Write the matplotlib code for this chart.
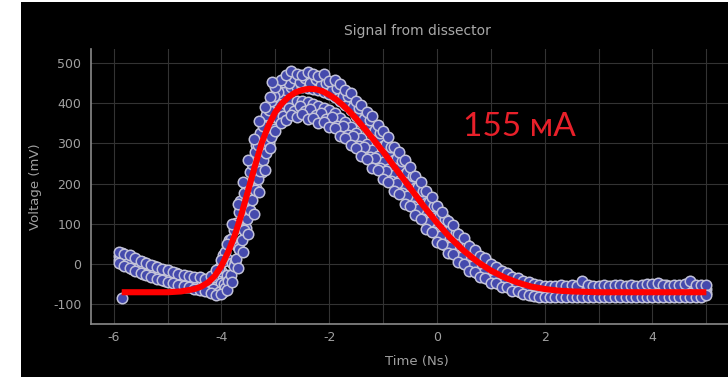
import matplotlib
matplotlib.use('Agg')
import matplotlib.pyplot as plt
from matplotlib.patches import Rectangle
from matplotlib.ticker import MultipleLocator

# sample times (ns)
time_ns = [
    -5.9, -5.8, -5.7, -5.6, -5.5, -5.4, -5.3, -5.2, -5.1, -5.0,
    -4.9, -4.8, -4.7, -4.6, -4.5, -4.4, -4.3, -4.2, -4.1, -4.0,
    -3.9, -3.8, -3.7, -3.6, -3.5, -3.4, -3.3, -3.2, -3.1, -3.0,
    -2.9, -2.8, -2.7, -2.6, -2.5, -2.4, -2.3, -2.2, -2.1, -2.0,
    -1.9, -1.8, -1.7, -1.6, -1.5, -1.4, -1.3, -1.2, -1.1, -1.0,
    -0.9, -0.8, -0.7, -0.6, -0.5, -0.4, -0.3, -0.2, -0.1, 0.0,
    0.1, 0.2, 0.3, 0.4, 0.5, 0.6, 0.7, 0.8, 0.9, 1.0,
    1.1, 1.2, 1.3, 1.4, 1.5, 1.6, 1.7, 1.8, 1.9, 2.0,
    2.1, 2.2, 2.3, 2.4, 2.5, 2.6, 2.7, 2.8, 2.9, 3.0,
    3.1, 3.2, 3.3, 3.4, 3.5, 3.6, 3.7, 3.8, 3.9, 4.0,
    4.1, 4.2, 4.3, 4.4, 4.5, 4.6, 4.7, 4.8, 4.9, 5.0,
]
time_ns_half = [
    -5.85, -5.75, -5.65, -5.55, -5.45, -5.35, -5.25, -5.15, -5.05, -4.95,
    -4.85, -4.75, -4.65, -4.55, -4.45, -4.35, -4.25, -4.15, -4.05, -3.95,
    -3.85, -3.75, -3.65, -3.55, -3.45, -3.35, -3.25, -3.15, -3.05, -2.95,
    -2.85, -2.75, -2.65, -2.55, -2.45, -2.35, -2.25, -2.15, -2.05, -1.95,
    -1.85, -1.75, -1.65, -1.55, -1.45, -1.35, -1.25, -1.15, -1.05, -0.95,
    -0.85, -0.75, -0.65, -0.55, -0.45, -0.35, -0.25, -0.15, -0.05, 0.05,
    0.15, 0.25, 0.35, 0.45, 0.55, 0.65, 0.75, 0.85, 0.95, 1.05,
    1.15, 1.25, 1.35, 1.45, 1.55, 1.65, 1.75, 1.85, 1.95, 2.05,
    2.15, 2.25, 2.35, 2.45, 2.55, 2.65, 2.75, 2.85, 2.95, 3.05,
    3.15, 3.25, 3.35, 3.45, 3.55, 3.65, 3.75, 3.85, 3.95, 4.05,
    4.15, 4.25, 4.35, 4.45, 4.55, 4.65, 4.75, 4.85, 4.95,
]
# extra samples on the steep rising edge
time_ns_rise = [
    -3.975, -3.925, -3.875, -3.825, -3.775, -3.725, -3.675, -3.625, -3.575, -3.525,
    -3.475, -3.425, -3.375, -3.325, -3.275, -3.225, -3.175, -3.125, -3.075, -3.025,
]

# measured voltage (mV), sweeps on the full-step grid
sweep_a = [
    30, 26, 22, 14, 8, 3, -2, -6, -12, -15,
    -20, -24, -26, -30, -32, -33, -36, -30, -15, 10,
    50, 100, 150, 205, 260, 310, 355, 390, 415, 440,
    458, 470, 480, 472, 470, 478, 474, 468, 472, 455,
    458, 448, 432, 425, 405, 395, 378, 368, 345, 332,
    315, 292, 280, 258, 242, 220, 205, 182, 168, 145,
    130, 108, 96, 76, 64, 46, 36, 20, 14, 0,
    -6, -18, -22, -32, -34, -42, -45, -50, -52, -55,
    -54, -55, -53, -54, -52, -54, -42, -53, -55, -54,
    -52, -55, -53, -51, -54, -53, -55, -52, -50, -49,
    -47, -53, -55, -53, -52, -49, -41, -51, -53, -51,
]
sweep_b = [
    21, 16, 11, 4, -2, -7, -12, -16, -21, -25,
    -29, -33, -36, -39, -42, -44, -47, -44, -35, -18,
    12, 52, 97, 147, 198, 248, 297, 338, 373, 403,
    422, 434, 440, 441, 441, 438, 436, 433, 429, 423,
    415, 406, 395, 383, 368, 354, 339, 325, 310, 293,
    275, 258, 242, 225, 207, 190, 171, 153, 135, 117,
    101, 84, 69, 55, 40, 28, 15, 5, -5, -14,
    -22, -29, -36, -42, -47, -53, -57, -60, -63, -64,
    -64, -65, -63, -64, -62, -64, -58, -63, -65, -64,
    -63, -64, -63, -62, -64, -63, -64, -63, -62, -61,
    -60, -63, -64, -63, -63, -61, -58, -62, -63, -61,
]
sweep_c = [
    11, 6, 0, -6, -13, -18, -22, -27, -31, -35,
    -39, -43, -45, -49, -52, -55, -57, -58, -56, -47,
    -27, 3, 43, 88, 137, 187, 238, 287, 332, 367,
    386, 398, 403, 405, 405, 402, 398, 394, 389, 384,
    375, 364, 353, 340, 327, 313, 299, 285, 270, 254,
    237, 222, 206, 190, 173, 157, 140, 123, 106, 88,
    73, 58, 45, 31, 19, 7, -3, -13, -21, -29,
    -36, -42, -48, -53, -59, -63, -67, -70, -72, -73,
    -73, -74, -73, -74, -73, -74, -72, -74, -74, -73,
    -73, -74, -72, -73, -74, -73, -74, -73, -72, -73,
    -72, -73, -74, -73, -72, -73, -72, -73, -74, -71,
]
sweep_d = [
    2, -4, -10, -16, -22, -27, -32, -36, -40, -45,
    -48, -52, -55, -58, -62, -65, -68, -72, -76, -75,
    -65, -45, -10, 30, 75, 125, 180, 235, 290, 330,
    352, 358, 372, 366, 374, 362, 364, 352, 354, 342,
    338, 318, 314, 295, 288, 268, 262, 240, 234, 212,
    204, 182, 174, 150, 144, 122, 112, 88, 80, 56,
    50, 28, 24, 4, 0, -16, -19, -33, -35, -47,
    -48, -57, -58, -66, -68, -75, -76, -80, -81, -82,
    -82, -83, -81, -82, -83, -82, -81, -83, -82, -81,
    -83, -82, -81, -83, -82, -81, -83, -82, -81, -83,
    -82, -81, -83, -82, -81, -83, -82, -81, -82, -78,
]

# sweeps on the half-step grid
sweep_e = [
    28, 15, 16, 1, 5, -8, -4, -18, -15, -26,
    -22, -33, -29, -40, -35, -44, -36, -36, -10, 7,
    59, 92, 157, 196, 260, 297, 351, 374, 414, 427,
    452, 450, 464, 452, 462, 451, 460, 446, 451, 434,
    437, 417, 417, 391, 388, 362, 359, 333, 327, 298,
    291, 264, 257, 228, 220, 192, 183, 155, 145, 119,
    111, 85, 78, 55, 48, 28, 23, 6, 3, -13,
    -15, -29, -30, -42, -42, -53, -51, -59, -56, -57,
    -61, -56, -60, -58, -55, -62, -57, -59, -56, -61,
    -58, -54, -60, -57, -59, -62, -56, -58, -55, -60,
    -57, -53, -59, -61, -56, -58, -54, -60, -57,
]
sweep_f = [
    0, 2, -12, -10, -24, -21, -33, -30, -41, -38,
    -50, -45, -56, -51, -63, -58, -68, -62, -69, -49,
    -40, 5, 32, 89, 125, 189, 229, 293, 325, 364,
    369, 389, 382, 394, 381, 386, 372, 377, 362, 365,
    344, 343, 320, 318, 294, 291, 267, 263, 238, 232,
    207, 201, 176, 170, 145, 138, 112, 104, 79, 71,
    48, 43, 22, 18, -2, -4, -21, -23, -37, -37,
    -49, -48, -60, -59, -70, -68, -76, -74, -80, -77,
    -79, -76, -80, -78, -75, -79, -77, -80, -76, -78,
    -79, -75, -77, -80, -78, -76, -79, -77, -80, -78,
    -75, -79, -77, -76, -80, -78, -77, -79, -76,
]
rise_hi = [22, 30, 50, 62, 85, 102, 130, 148, 178, 198,
           228, 248, 278, 297, 325, 344, 370, 384, 405, 418]
rise_lo = [-70, -60, -42, -28, -5, 12, 38, 60, 84, 112,
           134, 160, 184, 212, 232, 258, 276, 300, 316, 335]
outlier_t = [-5.85, -3.07]
outlier_v = [-85, 453]

# fitted curve
fit_t = [-5.85, -5.0, -4.75, -4.5, -4.375, -4.25, -4.125, -4.0, -3.875, -3.75,
         -3.625, -3.5, -3.375, -3.25, -3.125, -3.0, -2.875, -2.75, -2.625, -2.5,
         -2.375, -2.25, -2.125, -2.0, -1.875, -1.75, -1.625, -1.5, -1.25, -1.0,
         -0.75, -0.5, -0.25, 0.0, 0.25, 0.5, 0.75, 1.0, 1.25, 1.5,
         1.75, 2.0, 2.25, 2.5, 3.0, 5.0]
fit_v = [-70, -70, -68, -62, -56, -46, -30, -5, 30, 72,
         125, 185, 245, 302, 345, 378, 400, 416, 427, 433,
         436, 435, 430, 421, 410, 396, 380, 362, 322, 280,
         235, 190, 145, 103, 65, 33, 6, -16, -33, -46,
         -56, -62, -66, -68, -70, -70]

fig = plt.figure(figsize=(7.28, 3.77), dpi=100, facecolor='white')
fig.add_artist(Rectangle((21 / 728, 0), 1, 375 / 377, transform=fig.transFigure,
                         facecolor='black', edgecolor='none', zorder=0))

ax = fig.add_axes([91 / 728, 1 - 324 / 377, 652 / 728, 275 / 377])
ax.set_facecolor('black')

dot_style = dict(s=57, facecolor='#454aad', edgecolor='#c2c2d8', linewidth=1.1, zorder=3)
ax.scatter(time_ns, sweep_b, **dot_style)
ax.scatter(time_ns_half, sweep_e, **dot_style)
ax.scatter(time_ns, sweep_c, **dot_style)
ax.scatter(time_ns_half, sweep_f, **dot_style)
ax.scatter(time_ns_rise, rise_hi, **dot_style)
ax.scatter(time_ns_rise, rise_lo, **dot_style)
ax.scatter(time_ns, sweep_a, **dot_style)
ax.scatter(time_ns, sweep_d, **dot_style)
ax.scatter(outlier_t, outlier_v, **dot_style)

ax.plot(fit_t, fit_v, color='#ff0000', linewidth=4.4, solid_capstyle='butt',
        solid_joinstyle='round', zorder=4)

ax.text(0.48, 341, '155 мА', color='#e8202a', fontsize=24, ha='left', va='center',
        family=['Lato', 'Open Sans', 'DejaVu Sans'], zorder=5)

ax.set_xlim(-6.42, 5.68)
ax.set_ylim(-149, 535)
ax.set_xticks([-6, -4, -2, 0, 2, 4])
ax.set_xticklabels(['-6', '-4', '-2', '0', '2', '4'])
ax.xaxis.set_minor_locator(MultipleLocator(1))
ax.set_yticks([-100, 0, 100, 200, 300, 400, 500])
ax.set_yticklabels(['-100', '0', '100', '200', '300', '400', '500'])

ax.grid(True, which='both', axis='x', color='#333333', linewidth=0.8)
ax.grid(True, which='major', axis='y', color='#333333', linewidth=0.8)
ax.set_axisbelow(True)
ax.tick_params(which='both', length=0, colors='#a0a0a0', labelsize=9)
ax.tick_params(axis='y', pad=7)
ax.tick_params(axis='x', pad=5)

for side in ('top', 'right'):
    ax.spines[side].set_visible(False)
for side in ('left', 'bottom'):
    ax.spines[side].set_color('#8a8a8a')
    ax.spines[side].set_linewidth(1.2)

ax.set_title('Signal from dissector', color='#a8a8a8', fontsize=10, pad=10)
ax.set_xlabel('Time (Ns)', color='#a0a0a0', fontsize=9.5, labelpad=8)
ax.set_ylabel('Voltage (mV)', color='#a0a0a0', fontsize=9.5, labelpad=8)

fig.savefig('out.png', dpi=100, facecolor='white')
